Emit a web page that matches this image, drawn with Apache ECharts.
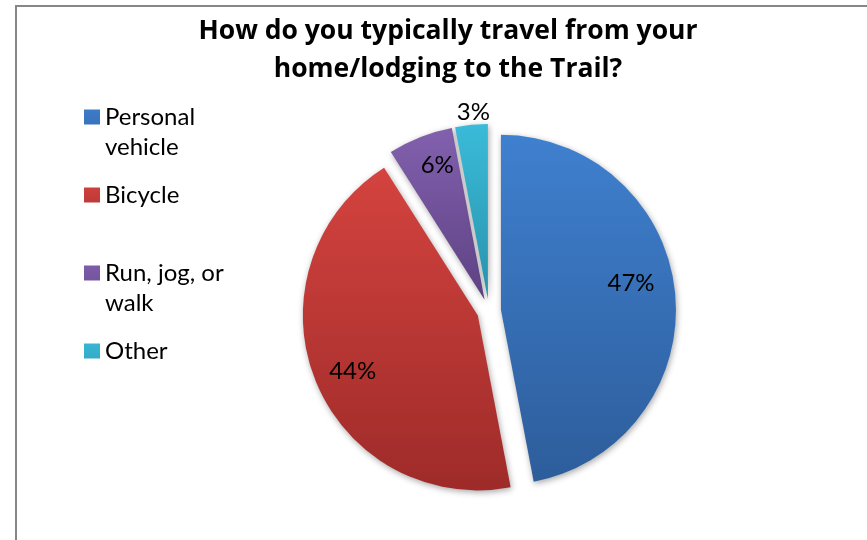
<!DOCTYPE html>
<html>
<head>
<meta charset="utf-8">
<script src="https://cdn.jsdelivr.net/npm/echarts@6/dist/echarts.min.js"></script>
<style>
  html, body { margin: 0; padding: 0; background: #ffffff; }
  #chart { width: 867px; height: 540px; }
</style>
</head>
<body>
<div id="chart"></div>
<script>
// Survey answers and their shares (percent)
const categories = ['Personal vehicle', 'Bicycle', 'Run, jog, or walk', 'Other'];
const shares = [47, 44, 6, 3];
// Legend text, wrapped the way it is shown next to each swatch
const legendLines = ['Personal\nvehicle', 'Bicycle\n', 'Run, jog, or\nwalk', 'Other\n'];
const titleLines = ['How do you typically travel from your', 'home/lodging to the Trail?'];

// Slice fills: light at the top, darker towards the bottom
const sliceGradients = [
  ['#3F80CF', '#2D5D9B'],
  ['#D4433F', '#9E2B29'],
  ['#8260AE', '#5E4283'],
  ['#3ABBD9', '#2892AC']
];
// Nudges for the percentage labels away from the slice middle
const labelNudges = [[40, -18], [-41, 23], [-14, -50], [-6, -97]];

const FONT = 'Lato, "Open Sans", sans-serif';
const TITLE_FONT = '"Open Sans", Lato, sans-serif';

function grad(pair) {
  return new echarts.graphic.LinearGradient(0, 0, 0, 1, [
    { offset: 0, color: pair[0] },
    { offset: 1, color: pair[1] }
  ]);
}

const pieData = categories.map((name, i) => ({
  name: name,
  value: shares[i],
  selected: true,
  itemStyle: { color: grad(sliceGradients[i]) }
}));

// Swatch sits beside the first text line of a two-line legend entry
const swatchIcon = 'path://M0,0L0,0M0,7.5h16v15h-16zM0,60L0,60';

const chart = echarts.init(document.getElementById('chart'), null, { renderer: 'canvas' });
chart.setOption({
  animation: false,
  backgroundColor: '#ffffff',
  title: {
    text: titleLines.join('\n'),
    left: 448,
    top: 12,
    padding: 0,
    textAlign: 'center',
    textStyle: {
      fontFamily: TITLE_FONT,
      fontSize: 26.5,
      fontWeight: 'bold',
      color: '#000000',
      lineHeight: 38
    }
  },
  legend: {
    orient: 'vertical',
    left: 84,
    top: 102,
    padding: 0,
    icon: swatchIcon,
    itemWidth: 16,
    itemHeight: 60,
    itemGap: 18,
    selectedMode: false,
    data: categories,
    formatter: name => legendLines[categories.indexOf(name)],
    itemStyle: { borderWidth: 0 },
    textStyle: {
      fontFamily: FONT,
      fontSize: 24,
      color: '#000000',
      lineHeight: 30
    }
  },
  graphic: [{
    type: 'rect',
    silent: true,
    shape: { x: 16, y: 6, width: 900, height: 600 },
    style: { fill: 'none', stroke: '#878787', lineWidth: 2 }
  }],
  series: [{
    type: 'pie',
    center: [489, 311],
    radius: 175,
    startAngle: 90,
    clockwise: true,
    selectedMode: 'multiple',
    selectedOffset: 12,
    avoidLabelOverlap: false,
    itemStyle: {
      borderWidth: 0,
      shadowBlur: 6,
      shadowOffsetX: 1,
      shadowOffsetY: 2,
      shadowColor: 'rgba(0,0,0,0.35)'
    },
    label: {
      show: true,
      position: 'inside',
      formatter: p => p.value + '%',
      fontFamily: FONT,
      fontSize: 24,
      color: '#000000'
    },
    labelLayout: p => ({ dx: labelNudges[p.dataIndex][0], dy: labelNudges[p.dataIndex][1] }),
    labelLine: { show: false },
    emphasis: { disabled: true },
    data: pieData
  }]
});
</script>
</body>
</html>
